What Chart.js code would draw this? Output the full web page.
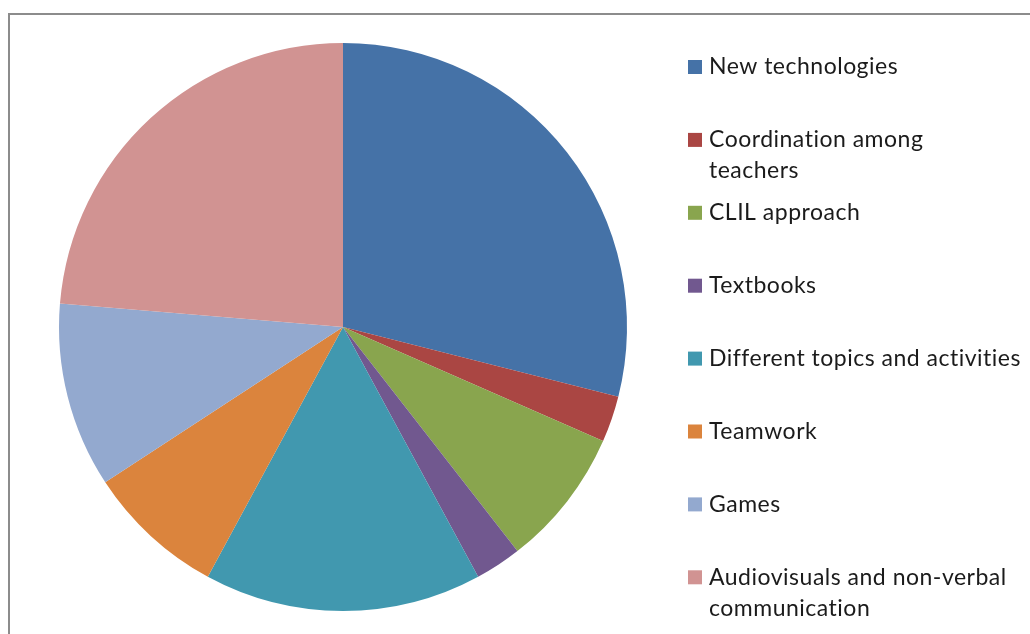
<!DOCTYPE html>
<html>
<head>
<meta charset="utf-8">
<script src="https://cdn.jsdelivr.net/npm/chart.js@4/dist/chart.umd.min.js"></script>
<style>
  html, body { margin: 0; padding: 0; background: #fff; }
  #wrap { width: 1030px; height: 634px; position: relative; }
</style>
</head>
<body>
<div id="wrap"><canvas id="myChart" width="1030" height="634"></canvas></div>
<script>
const categories = [
    'New technologies',
    ['Coordination among', 'teachers'],
    'CLIL approach',
    'Textbooks',
    'Different topics and activities',
    'Teamwork',
    'Games',
    ['Audiovisuals and non-verbal', 'communication']
];
const answers = [11, 1, 3, 1, 6, 3, 4, 9];
const sliceColors = ['#4572A7', '#AA4643', '#89A54E', '#71588F', '#4198AF', '#DB843D', '#93A9CF', '#D19392'];

const legendFont = '23px Lato';

// frame and wrapped legend drawn by hand, the built-in legend can't wrap
var sideLegend = {
    id: 'sideLegend',
    afterDraw: function(chart) {
        var c = chart.ctx;
        c.save();
        c.strokeStyle = '#8c8c8c';
        c.lineWidth = 2;
        c.beginPath();
        c.moveTo(9, 640);
        c.lineTo(9, 14);
        c.lineTo(1040, 14);
        c.stroke();

        c.font = legendFont;
        c.letterSpacing = '0.5px';
        c.textBaseline = 'middle';
        var colors = chart.data.datasets[0].backgroundColor;
        chart.data.labels.forEach(function(lbl, i) {
            var y = 67 + i * 72.9;
            c.fillStyle = colors[i];
            c.fillRect(688, y - 7, 14, 14);
            c.fillStyle = '#1b1b1b';
            var lines = Array.isArray(lbl) ? lbl : [lbl];
            lines.forEach(function(t, j) {
                c.fillText(t, 709, y + j * 31);
            });
        });
        c.restore();
    }
};

var graphData = {
    type: 'pie',
    data: {
        labels: categories,
        datasets: [{
            data: answers,
            backgroundColor: sliceColors,
            borderWidth: 0
        }]
    },
    options: {
        responsive: false,
        animation: false,
        layout: {
            padding: { left: 59, top: 43, right: 403, bottom: 23 }
        },
        plugins: {
            legend: { display: false },
            tooltip: { enabled: false }
        }
    },
    plugins: [sideLegend]
};

var myChart = new Chart(document.getElementById('myChart'), graphData);
</script>
</body>
</html>
